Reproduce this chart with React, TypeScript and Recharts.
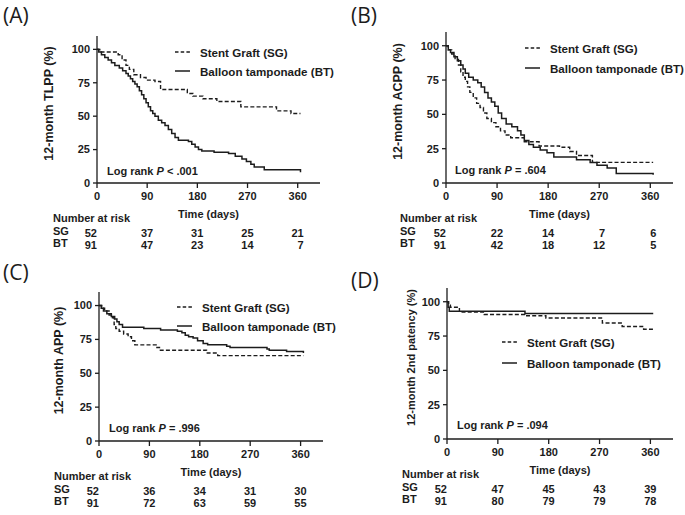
import React from 'react'
import { Legend, Line, LineChart, XAxis, YAxis } from 'recharts'

// Kaplan-Meier curves, stent graft vs balloon tamponade, four endpoints
const TICKS_X = [0, 90, 180, 270, 360]
const TICKS_Y = [0, 25, 50, 75, 100]
const SG_NAME = 'Stent Graft (SG)'
const BT_NAME = 'Balloon tamponade (BT)'

type Pt = [number, number]

// (A) TLPP
const tlppSG: Pt[] = [[0, 100], [5, 98], [38, 96], [45, 92], [52, 88], [58, 85], [66, 81], [78, 79], [88, 77], [104, 76], [114, 70], [162, 67], [172, 65], [190, 63], [215, 61], [258, 57], [322, 54], [348, 52], [365, 52]]
const tlppBT: Pt[] = [[0, 100], [3, 98], [8, 96], [14, 94], [20, 92], [26, 90], [32, 88], [40, 86], [46, 84], [52, 82], [56, 80], [60, 78], [64, 76], [68, 74], [72, 72], [76, 69], [80, 66], [84, 63], [88, 60], [92, 57], [96, 54], [100, 52], [104, 50], [110, 47], [116, 45], [122, 43], [128, 40], [134, 37], [140, 34], [146, 32], [164, 31], [170, 29], [176, 27], [182, 25], [188, 24], [210, 23], [236, 22], [248, 20], [260, 18], [268, 16], [276, 14], [282, 12], [300, 10], [362, 10], [365, 8]]
const riskSG_A = [52, 37, 31, 25, 21]
const riskBT_A = [91, 47, 23, 14, 7]

// (B) ACPP
const acppSG: Pt[] = [[0, 100], [4, 97], [10, 94], [16, 90], [22, 86], [26, 81], [30, 77], [34, 74], [38, 70], [42, 66], [48, 62], [54, 58], [60, 55], [66, 51], [72, 47], [80, 44], [88, 41], [96, 38], [104, 35], [114, 33], [138, 30], [164, 27], [200, 26], [218, 23], [230, 20], [258, 15], [365, 15]]
const acppBT: Pt[] = [[0, 100], [4, 97], [8, 95], [14, 92], [20, 89], [26, 86], [30, 83], [34, 80], [40, 77], [48, 75], [56, 73], [62, 70], [68, 66], [74, 62], [80, 59], [86, 56], [92, 51], [98, 47], [106, 43], [116, 41], [126, 38], [132, 35], [138, 31], [146, 28], [154, 26], [166, 24], [178, 22], [190, 19], [230, 17], [254, 15], [266, 13], [284, 11], [300, 7], [362, 7], [365, 6]]
const riskSG_B = [52, 22, 14, 7, 6]
const riskBT_B = [91, 42, 18, 12, 5]

// (C) APP
const appSG: Pt[] = [[0, 100], [5, 98], [10, 96], [18, 93], [24, 91], [27, 86], [30, 83], [36, 81], [44, 79], [52, 77], [58, 74], [64, 71], [102, 69], [108, 67], [192, 65], [212, 63], [365, 63]]
const appBT: Pt[] = [[0, 100], [4, 98], [8, 96], [14, 94], [22, 92], [28, 90], [32, 88], [36, 86], [42, 84], [80, 83], [110, 82], [140, 81], [148, 80], [154, 78], [160, 77], [168, 76], [176, 74], [186, 72], [194, 71], [228, 70], [234, 69], [300, 68], [304, 67], [335, 66], [365, 65]]
const riskSG_C = [52, 36, 34, 31, 30]
const riskBT_C = [91, 72, 63, 59, 55]

// (D) secondary patency
const patSG: Pt[] = [[0, 100], [3, 98], [6, 96], [22, 92.5], [66, 90.7], [138, 89.8], [175, 88.2], [275, 84.5], [310, 82], [348, 80], [365, 80]]
const patBT: Pt[] = [[0, 100], [2, 96], [4, 93], [138, 91.5], [365, 91.5]]
const riskSG_D = [52, 47, 45, 43, 39]
const riskBT_D = [91, 80, 79, 79, 78]

const INK = '#1c1c1c'
const FONT = '"Liberation Sans", Arial, sans-serif'
const H = 258
const XH = 30
const txt = { fontFamily: FONT, fontSize: 11, fontWeight: 700, fill: INK }

const toRows = (pts: Pt[]) => pts.map(([t, s]) => ({ t, s }))

const panels = [
  { tag: '(A)', yLabel: '12-month TLPP (%)', yFont: 12.5, logRank: '< .001', sg: tlppSG, bt: tlppBT, riskSG: riskSG_A, riskBT: riskBT_A,
    x0: 0, y0: 0, w: 340, axisX: 97, top: 36, bottom: 183, right: 320, yGap: 48,
    legX: 175, legY: 52, legGap: 19, logX: 107, logY: 173, tagX: 3, tagY: 15, rowX: 53 },
  { tag: '(B)', yLabel: '12-month ACPP (%)', yFont: 12.5, logRank: '= .604', sg: acppSG, bt: acppBT, riskSG: riskSG_B, riskBT: riskBT_B,
    x0: 340, y0: 0, w: 345, axisX: 446, top: 32, bottom: 183, right: 673, yGap: 48,
    legX: 525, legY: 48, legGap: 20, logX: 455, logY: 172, tagX: 351, tagY: 15, rowX: 400 },
  { tag: '(C)', yLabel: '12-month APP (%)', yFont: 12.5, logRank: '= .996', sg: appSG, bt: appBT, riskSG: riskSG_C, riskBT: riskBT_C,
    x0: 0, y0: 255, w: 340, axisX: 99, top: 292, bottom: 441, right: 323, yGap: 40,
    legX: 177, legY: 307, legGap: 19, logX: 109, logY: 430, tagX: 3, tagY: 272, rowX: 54 },
  { tag: '(D)', yLabel: '12-month 2nd patency (%)', yFont: 11, logRank: '= .094', sg: patSG, bt: patBT, riskSG: riskSG_D, riskBT: riskBT_D,
    x0: 340, y0: 255, w: 345, axisX: 447, top: 288, bottom: 439, right: 673, yGap: 36,
    legX: 502, legY: 342, legGap: 21, logX: 457, logY: 427, tagX: 351, tagY: 280, rowX: 402 },
]

type Cfg = (typeof panels)[number]

// tick label plus the two "number at risk" rows under it
const makeTick = (sg: number[], bt: number[]) => (props: any) => {
  const { x, y, payload } = props
  const i = TICKS_X.indexOf(payload.value)
  const nx = x + (i === 0 ? 0 : 6)
  return (
    <g>
      <text x={x} y={y + 10} textAnchor="middle" style={txt}>{payload.value}</text>
      <text x={nx} y={y + 47} textAnchor="end" style={txt}>{sg[i]}</text>
      <text x={nx} y={y + 59} textAnchor="end" style={txt}>{bt[i]}</text>
    </g>
  )
}

// legend keeps SG on top like the original
const legendContent = (gap: number) => (props: any) => {
  const items = [...(props.payload || [])].sort((a: any, b: any) => (a.value === SG_NAME ? -1 : b.value === SG_NAME ? 1 : 0))
  return (
    <div>
      {items.map((e: any, i: number) => (
        <div key={i} style={{ display: 'flex', alignItems: 'center', height: gap }}>
          <svg width={15} height={4}>
            <line x1={0} y1={2} x2={15} y2={2} stroke={INK} strokeWidth={1.5} strokeDasharray={e.value === SG_NAME ? '3.5 2.2' : undefined} />
          </svg>
          <span style={{ marginLeft: 10, font: `700 11.6px ${FONT}`, color: INK, whiteSpace: 'nowrap' }}>{e.value}</span>
        </div>
      ))}
    </div>
  )
}

const divText = (left: number, cy: number, size = 11) => ({
  position: 'absolute' as const, left, top: cy - 8, height: 16, lineHeight: '16px',
  font: `700 ${size}px ${FONT}`, color: INK, whiteSpace: 'nowrap' as const,
})

const Panel = ({ c }: { c: Cfg }) => {
  const yMid = (c.top + c.bottom) / 2 - c.y0 - 6
  const yLabX = c.axisX - c.x0 - c.yGap + 4
  const axisStyle = { stroke: INK, strokeWidth: 1.3 }
  return (
    <>
      <div style={{ position: 'absolute', left: c.x0, top: c.y0 }}>
        <LineChart
          width={c.w}
          height={H}
          margin={{ top: c.top - c.y0, right: c.x0 + c.w - c.right, bottom: H - (c.bottom - c.y0) - XH, left: 0 }}
        >
          <XAxis
            type="number"
            dataKey="t"
            domain={[0, 400]}
            ticks={TICKS_X}
            interval={0}
            height={XH}
            tickSize={5}
            tickMargin={2}
            axisLine={axisStyle}
            tickLine={axisStyle}
            tick={makeTick(c.riskSG, c.riskBT)}
            label={{
              content: (p: any) => {
                const vb = p.viewBox || {}
                return (
                  <text x={vb.x + vb.width / 2} y={vb.y + 35} textAnchor="middle" style={txt}>Time (days)</text>
                )
              },
            }}
          />
          <YAxis
            type="number"
            domain={[0, 110]}
            ticks={TICKS_Y}
            interval={0}
            width={c.axisX - c.x0}
            tickSize={4}
            tickMargin={3}
            axisLine={axisStyle}
            tickLine={axisStyle}
            tick={txt}
            label={{
              content: () => (
                <text x={yLabX} y={yMid} textAnchor="middle" transform={`rotate(-90 ${yLabX} ${yMid})`} style={{ ...txt, fontSize: c.yFont }}>
                  {c.yLabel}
                </text>
              ),
            }}
          />
          <Line data={toRows(c.sg)} dataKey="s" name={SG_NAME} type="stepAfter" stroke={INK} strokeWidth={1.4}
            strokeDasharray="4 2.2" dot={false} activeDot={false} isAnimationActive={false} />
          <Line data={toRows(c.bt)} dataKey="s" name={BT_NAME} type="stepAfter" stroke={INK} strokeWidth={1.5}
            dot={false} activeDot={false} isAnimationActive={false} />
          <Legend
            layout="horizontal"
            verticalAlign="middle"
            align="center"
            content={legendContent(c.legGap)}
            wrapperStyle={{ left: c.legX - c.x0, top: c.legY - c.y0 - c.legGap / 2, width: 160 }}
          />
        </LineChart>
      </div>
      <div style={{ position: 'absolute', left: c.tagX, top: c.tagY - 14, height: 28, lineHeight: '28px', font: `400 21px "Open Sans", sans-serif`, color: INK }}>
        {c.tag}
      </div>
      <div style={divText(c.logX, c.logY)}>
        Log rank <i>P</i> {c.logRank}
      </div>
      <div style={divText(c.rowX, c.bottom + 37)}>Number at risk</div>
      <div style={divText(c.rowX, c.bottom + 50)}>SG</div>
      <div style={divText(c.rowX, c.bottom + 62)}>BT</div>
    </>
  )
}

export default function App() {
  return (
    <div style={{ position: 'absolute', left: 0, top: 0, width: 685, height: 515, background: '#fff', overflow: 'hidden' }}>
      {panels.map((c) => (
        <Panel key={c.tag} c={c} />
      ))}
    </div>
  )
}
